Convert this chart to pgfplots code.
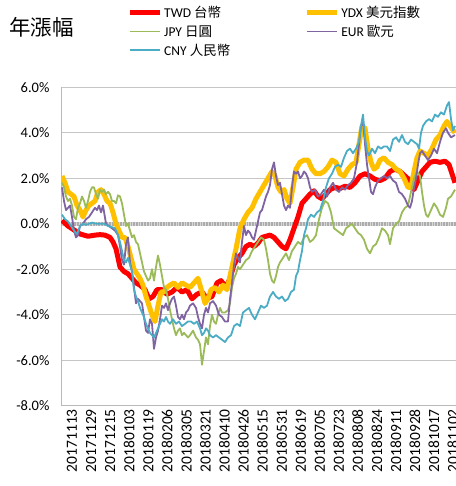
\documentclass[border=0pt]{standalone}
\usepackage{fontspec}
\setmainfont{Carlito}
\newfontfamily\cjk{Noto Sans CJK TC}
\usepackage{pgfplots}
\pgfplotsset{compat=1.18}
\definecolor{twd}{HTML}{FF0000}
\definecolor{ydx}{HTML}{FFC000}
\definecolor{jpy}{HTML}{9BBB59}
\definecolor{eur}{HTML}{8064A2}
\definecolor{cny}{HTML}{4BACC6}
\begin{document}
\begin{tikzpicture}
\useasboundingbox (0pt,0pt) rectangle (455pt,486pt);
\node[anchor=west, inner sep=0pt, font=\cjk\fontsize{21.5}{21.5}\selectfont] at (9pt,459pt) {年漲幅};
\begin{axis}[
  at={(61pt,80.3pt)}, anchor=south west, scale only axis,
  width=399pt, height=318.4pt,
  xmin=61, xmax=460, ymin=-8, ymax=6,
  ytick={-8,-6,...,6},
  ymajorgrids, grid style={gray!45, line width=0.8pt},
  axis lines*=left, axis line style={gray!55, line width=0.8pt},
  major tick length=0pt,
  xtick={66,85.05,...,447.1},
  xticklabels={20171113,20171129,20171215,20180103,20180119,20180206,20180305,20180321,20180410,20180426,20180515,20180531,20180619,20180705,20180723,20180808,20180824,20180911,20180928,20181017,20181102},
  xticklabel style={rotate=90, anchor=east, font=\fontsize{15.5}{15.5}\selectfont, yshift=-6pt},
  /pgf/number format/assume math mode=true,
  yticklabel={\pgfmathprintnumber[fixed,fixed zerofill,precision=1]{\tick}\%},
  yticklabel style={font=\fontsize{14.5}{14.5}\selectfont, xshift=-8pt},
  legend columns=2,
  legend cell align=left,
  legend style={at={(0.158,1.268)}, anchor=north west, draw=none, fill=none,
    font=\fontsize{13.5}{13.5}\selectfont, row sep=2pt,
    /tikz/every even column/.append style={column sep=72pt}},
  legend image code/.code={\draw[#1] (0pt,0pt) -- (30pt,0pt);},
  line join=round,
]
% zero axis with category tick marks
\addplot[forget plot, gray!30, line width=4pt] coordinates {(61,0) (460,0)};
\addplot[forget plot, gray!65, line width=4pt, dash pattern=on 0.9pt off 0.69pt] coordinates {(61,0) (460,0)};

\addplot[twd, line width=5pt] coordinates {
(62,0.15)(68,-0.1)(75,-0.3)(80,-0.45)(88,-0.55)(95,-0.5)(100,-0.48)(105,-0.5)(110,-0.6)(113,-0.8)(116,-1.1)(120,-1.9)(124,-2.1)(128,-2.2)(132,-2.4)(136,-2.6)(140,-2.7)(145,-2.9)(149,-3.3)(153,-3.2)(157,-2.9)(162,-2.9)(167,-3.1)(172,-3.0)(177,-2.8)(182,-3.0)(187,-2.9)(192,-3.3)(197,-3.1)(202,-3.0)(207,-3.3)(212,-3.2)(217,-2.6)(221,-2.5)(226,-2.8)(230,-2.4)(234,-1.8)(238,-1.5)(242,-1.3)(246,-1.0)(250,-0.9)(254,-1.0)(258,-0.85)(262,-0.6)(266,-0.55)(270,-0.5)(274,-0.6)(278,-0.8)(282,-1.0)(286,-1.1)(290,-0.7)(294,-0.2)(298,0.3)(302,0.9)(306,1.1)(310,1.3)(314,1.45)(318,1.2)(322,1.1)(326,1.3)(330,1.5)(335,1.6)(340,1.55)(345,1.65)(350,1.6)(355,1.8)(360,2.1)(365,2.2)(370,2.1)(375,1.95)(380,1.9)(385,2.0)(390,2.3)(395,2.4)(400,2.3)(405,2.1)(410,1.9)(414,1.5)(418,1.9)(422,2.3)(426,2.5)(430,2.7)(435,2.75)(440,2.7)(445,2.75)(449,2.6)(452,2.2)(455,1.8)
};
\addlegendentry{TWD {\cjk 台幣}}

\addplot[ydx, line width=5pt] coordinates {
(62,2.1)(65,1.8)(68,1.4)(71,1.3)(74,1.2)(77,0.8)(80,0.6)(83,0.3)(86,0.6)(89,0.8)(92,0.9)(95,1.0)(98,1.4)(101,1.5)(104,1.3)(107,1.0)(110,0.9)(113,0.5)(116,0.0)(119,-0.3)(122,-0.6)(125,-0.6)(128,-1.0)(131,-1.5)(134,-2.0)(137,-2.2)(140,-2.4)(143,-2.7)(146,-3.2)(149,-3.6)(152,-4.0)(155,-4.3)(158,-3.6)(161,-3.0)(164,-3.0)(167,-2.8)(170,-2.7)(174,-2.6)(178,-2.8)(182,-2.6)(186,-2.7)(190,-2.8)(194,-2.6)(198,-2.4)(202,-3.0)(205,-3.5)(208,-3.3)(211,-2.9)(215,-2.8)(219,-3.0)(223,-2.7)(227,-2.9)(230,-2.3)(233,-1.7)(236,-1.1)(240,-0.2)(244,0.2)(248,0.5)(252,0.7)(256,1.1)(260,1.4)(264,1.7)(268,2.0)(272,2.3)(275,2.1)(278,1.6)(281,1.4)(284,1.5)(287,1.1)(290,0.9)(293,1.6)(296,2.4)(300,2.7)(304,2.8)(308,2.8)(312,2.4)(316,2.2)(320,2.2)(324,2.3)(328,2.5)(332,2.8)(336,2.7)(340,2.2)(344,2.1)(348,2.4)(352,2.6)(356,2.7)(359,3.5)(362,4.3)(365,4.2)(368,3.3)(371,2.7)(374,2.4)(377,2.5)(380,2.8)(384,2.9)(388,2.7)(392,2.6)(396,2.4)(400,2.3)(404,2.0)(408,1.6)(411,1.6)(414,2.3)(417,2.9)(420,3.2)(424,3.1)(428,3.0)(432,3.3)(436,3.7)(440,3.9)(444,4.3)(447,4.5)(450,4.3)(455,4.0)
};
\addlegendentry{YDX {\cjk 美元指數}}

\addplot[jpy, line width=1.8pt] coordinates {
(62,1.8)(64,1.6)(66,1.2)(68,1.0)(70,1.1)(72,0.8)(74,0.3)(76,0.2)(78,0.7)(80,0.9)(82,1.2)(84,1.0)(86,0.7)(88,1.0)(90,1.4)(92,1.6)(94,1.6)(96,1.3)(98,1.1)(100,1.5)(102,1.4)(104,1.5)(106,1.3)(108,1.4)(110,1.3)(112,1.0)(114,1.0)(116,0.9)(118,1.25)(120,1.2)(122,0.9)(124,0.4)(126,-0.1)(128,0.0)(130,-0.3)(132,-0.6)(134,-0.5)(136,-0.8)(138,-0.9)(140,-1.3)(142,-1.7)(144,-2.1)(146,-2.3)(148,-2.5)(150,-2.4)(152,-2.0)(154,-2.5)(156,-1.9)(158,-1.4)(160,-1.8)(162,-2.3)(164,-2.8)(166,-2.9)(168,-3.3)(170,-3.8)(172,-4.2)(174,-4.6)(176,-4.9)(178,-4.7)(180,-4.6)(182,-4.9)(184,-4.8)(186,-4.9)(188,-5.0)(190,-4.9)(193,-4.7)(196,-5.0)(198,-5.1)(200,-5.3)(202,-6.2)(204,-5.6)(206,-5.0)(208,-5.3)(210,-4.5)(212,-4.0)(214,-4.3)(216,-4.4)(218,-4.0)(220,-3.7)(222,-3.9)(225,-3.9)(228,-3.8)(230,-3.5)(232,-2.8)(234,-2.4)(236,-2.2)(238,-1.9)(240,-2.0)(243,-1.8)(246,-1.6)(249,-1.5)(252,-1.2)(255,-1.0)(258,-0.8)(261,-0.6)(264,-0.7)(266,-1.1)(268,-1.6)(270,-2.2)(272,-2.5)(274,-2.6)(276,-2.3)(278,-1.9)(280,-1.7)(283,-1.5)(286,-1.3)(289,-1.6)(292,-1.2)(295,-1.0)(298,-0.8)(301,-0.9)(304,-0.6)(307,-0.5)(310,-0.8)(313,-0.7)(316,-0.5)(319,0.2)(322,0.7)(325,1.0)(328,0.9)(331,0.5)(334,-0.2)(337,-0.3)(340,-0.4)(343,-0.5)(346,-0.2)(349,-0.1)(352,0.0)(355,-0.2)(358,-0.4)(361,-0.5)(364,-0.7)(367,-1.1)(370,-1.3)(373,-1.0)(376,-0.9)(379,-0.6)(382,-0.2)(385,-0.3)(388,-0.5)(390,-0.9)(393,-0.2)(396,0.0)(399,0.1)(402,0.5)(405,0.7)(408,0.8)(411,1.4)(414,2.0)(417,2.3)(420,2.1)(422,1.4)(424,0.8)(426,0.4)(428,0.3)(431,0.6)(434,0.9)(437,0.7)(440,0.4)(443,0.3)(446,0.7)(448,1.1)(451,1.2)(455,1.5)
};
\addlegendentry{JPY {\cjk 日圓}}

\addplot[eur, line width=1.8pt] coordinates {
(62,1.6)(64,1.0)(66,0.6)(68,0.7)(70,0.8)(72,0.3)(74,-0.3)(76,-0.6)(78,-0.5)(80,-0.1)(83,0.0)(86,0.2)(89,0.3)(92,0.5)(95,0.7)(97,0.6)(99,0.8)(101,0.5)(103,0.8)(106,0.0)(109,-0.1)(112,-0.2)(115,-0.3)(118,-0.5)(120,-1.0)(122,-1.6)(124,-1.8)(126,-0.9)(128,-0.6)(130,-1.7)(132,-2.1)(134,-2.8)(136,-3.5)(138,-3.3)(140,-3.4)(142,-3.5)(144,-4.1)(146,-4.7)(148,-4.8)(150,-4.2)(152,-4.4)(154,-5.5)(156,-5.0)(158,-4.7)(160,-4.2)(162,-3.6)(164,-3.7)(166,-3.5)(168,-3.8)(170,-3.5)(172,-3.3)(174,-3.2)(176,-3.6)(178,-4.1)(180,-4.2)(182,-4.0)(184,-4.2)(186,-3.9)(188,-3.8)(190,-3.6)(193,-3.5)(196,-3.7)(198,-4.1)(200,-4.4)(202,-4.6)(204,-4.0)(206,-3.7)(208,-3.9)(210,-3.5)(213,-3.4)(216,-3.6)(219,-4.0)(222,-4.1)(225,-4.3)(228,-4.3)(230,-3.3)(232,-2.6)(234,-1.8)(236,-1.3)(238,-1.5)(240,-1.7)(242,-0.8)(244,-0.1)(246,-0.5)(248,-0.3)(250,-0.4)(252,-0.6)(254,-0.7)(256,-0.3)(258,0.1)(260,0.5)(262,0.6)(264,0.9)(266,1.2)(268,1.4)(270,1.7)(272,2.4)(274,2.7)(276,2.1)(278,1.7)(280,1.8)(282,1.3)(284,0.8)(286,0.6)(288,0.8)(290,0.7)(292,1.6)(294,2.3)(296,2.2)(298,2.3)(300,2.0)(302,2.1)(304,2.3)(306,2.2)(308,2.0)(310,1.6)(312,1.4)(315,1.5)(318,1.2)(321,1.3)(324,1.5)(327,1.2)(330,1.6)(333,1.8)(336,1.5)(339,1.4)(342,1.6)(345,1.5)(348,1.7)(351,1.8)(354,2.0)(357,2.7)(359,3.5)(361,4.3)(363,4.5)(365,3.5)(367,2.6)(369,2.0)(371,1.4)(373,1.3)(375,1.6)(378,1.9)(381,2.0)(384,2.1)(387,2.0)(390,2.1)(393,1.9)(396,1.8)(399,1.4)(402,1.3)(405,1.1)(408,0.8)(410,0.7)(412,1.0)(414,1.6)(416,2.0)(418,2.6)(420,3.1)(422,3.2)(425,3.0)(428,2.8)(431,3.0)(434,3.3)(437,3.1)(440,3.6)(443,4.0)(446,4.2)(448,4.0)(451,3.8)(455,3.9)
};
\addlegendentry{EUR {\cjk 歐元}}

\addplot[cny, line width=1.8pt] coordinates {
(62,0.4)(65,0.2)(68,0.1)(71,-0.1)(74,-0.3)(77,-0.45)(80,-0.1)(83,0.0)(86,-0.05)(89,0.0)(92,0.05)(96,0.0)(100,0.0)(104,0.0)(108,-0.1)(112,-0.15)(115,-0.2)(118,-0.5)(120,-0.8)(122,-1.2)(124,-1.6)(126,-1.7)(128,-1.5)(130,-1.8)(132,-2.1)(134,-2.9)(136,-3.2)(138,-3.4)(140,-3.7)(142,-3.9)(144,-4.1)(146,-4.4)(148,-4.6)(150,-4.8)(152,-4.9)(154,-5.0)(156,-4.8)(158,-4.6)(160,-4.4)(162,-4.2)(164,-4.3)(166,-4.1)(168,-4.3)(170,-4.4)(173,-4.2)(176,-4.4)(179,-4.3)(182,-4.5)(185,-4.4)(188,-4.3)(191,-4.3)(194,-4.4)(197,-4.3)(200,-4.6)(202,-4.9)(204,-4.8)(206,-4.6)(208,-4.7)(210,-4.9)(213,-5.0)(216,-4.9)(219,-5.0)(222,-5.1)(225,-5.2)(228,-5.0)(231,-4.9)(234,-4.5)(237,-4.4)(240,-4.5)(243,-3.9)(246,-3.8)(249,-3.7)(252,-4.0)(255,-4.2)(258,-3.9)(261,-3.6)(264,-3.7)(267,-3.6)(270,-3.2)(273,-3.0)(276,-3.2)(279,-3.3)(282,-3.2)(285,-3.4)(288,-3.3)(291,-3.0)(294,-2.9)(296,-2.3)(298,-2.1)(300,-1.6)(302,-1.2)(304,-0.5)(306,-0.2)(308,0.2)(311,0.4)(314,0.3)(317,0.5)(320,0.6)(323,1.0)(326,1.6)(329,2.0)(332,2.2)(335,2.5)(338,2.6)(341,2.5)(344,2.9)(347,3.2)(350,3.3)(353,3.1)(356,3.3)(359,3.6)(361,4.3)(363,4.8)(365,3.8)(367,3.2)(369,3.0)(372,3.3)(375,3.1)(378,3.4)(381,3.3)(384,3.4)(387,3.4)(390,3.2)(393,3.7)(396,3.8)(399,3.6)(402,3.9)(405,3.6)(408,3.5)(411,3.7)(414,3.6)(417,3.5)(419,3.3)(421,4.0)(423,4.3)(426,4.5)(429,4.6)(432,4.5)(435,4.8)(438,4.7)(441,4.9)(444,4.8)(447,5.2)(449,5.35)(451,4.6)(453,4.1)(455,4.3)
};
\addlegendentry{CNY {\cjk 人民幣}}
\end{axis}
\end{tikzpicture}
\end{document}
